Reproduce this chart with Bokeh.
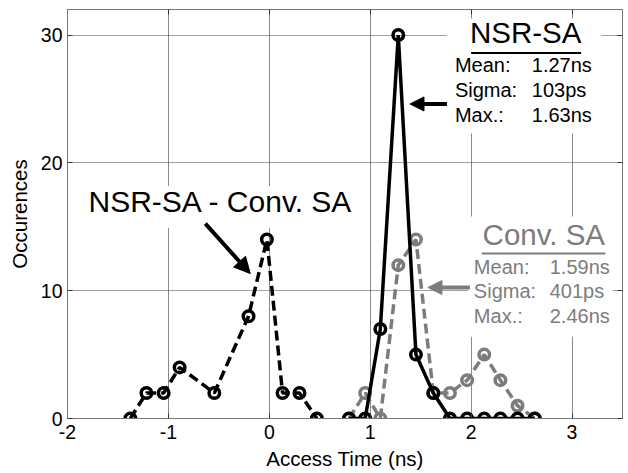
from bokeh.plotting import figure
from bokeh.models import Range1d, LinearAxis, Label, Arrow, NormalHead, BoxAnnotation, FixedTicker
from bokeh.embed import file_html
from bokeh.resources import INLINE

# ---- data ----
diff_x = [-1.377, -1.218, -1.047, -0.889, -0.545, -0.206, -0.024, 0.131, 0.299, 0.471]
diff_y = [0, 2, 2, 4, 2, 8, 14, 2, 2, 0]

bins = [0.79, 0.95, 1.10, 1.278, 1.453, 1.625, 1.79, 1.96, 2.13, 2.29, 2.46, 2.63]
nsr_y = [0, 0, 7, 30, 5, 2, 0, 0, 0, 0, 0, 0]
conv_y = [0, 2, 0, 12, 14, 2, 2, 3, 5, 3, 1, 0]

x_ticks = [-2, -1, 0, 1, 2, 3]
x_tick_labels = ["-2", "-1", "0", "1", "2", "3"]
y_ticks = [0, 10, 20, 30]

stat_keys = ["Mean:", "Sigma:", "Max.:"]
nsr_stats = ["1.27ns", "103ps", "1.63ns"]
conv_stats = ["1.59ns", "401ps", "2.46ns"]

FONT = "Liberation Sans"
GRAY = "#7c7c7c"

p = figure(width=628, height=473, x_range=Range1d(-2, 3.5), y_range=Range1d(0, 32),
           output_backend="svg", toolbar_location=None,
           min_border_left=67, min_border_right=6, min_border_top=9, min_border_bottom=55)
p.background_fill_color = "white"
p.border_fill_color = "white"
p.outline_line_color = "#777777"
p.outline_line_width = 1

# axes
for ax in (p.xaxis[0], p.yaxis[0]):
    ax.axis_line_color = "#777777"
    ax.major_tick_in = 5
    ax.major_tick_out = 0
    ax.minor_tick_line_color = None
    ax.major_tick_line_color = "#333333"
    ax.major_label_text_font = FONT
    ax.major_label_text_font_size = "19.5px"
    ax.major_label_text_color = "black"
    ax.axis_label_text_font = FONT
    ax.axis_label_text_font_size = "20.5px"
    ax.axis_label_text_font_style = "normal"
    ax.axis_label_text_color = "black"
p.xaxis.ticker = FixedTicker(ticks=x_ticks)
p.xaxis.major_label_overrides = {t: s for t, s in zip(x_ticks, x_tick_labels)}
p.yaxis.ticker = FixedTicker(ticks=y_ticks)
p.xaxis.axis_label = "Access Time (ns)"
p.yaxis.axis_label = "Occurences"
p.xaxis.major_label_standoff = 6
p.xaxis.axis_label_standoff = 5
p.yaxis.major_label_standoff = 5
p.yaxis.axis_label_standoff = 7

for side, tk in (("above", x_ticks), ("right", y_ticks)):
    ax = LinearAxis(ticker=FixedTicker(ticks=tk))
    ax.axis_line_color = "#777777"
    ax.major_tick_in = 5
    ax.major_tick_out = 0
    ax.minor_tick_line_color = None
    ax.major_tick_line_color = "#333333"
    ax.major_label_text_font_size = "1px"
    ax.major_label_text_color = None
    ax.major_label_standoff = 0
    p.add_layout(ax, side)

p.xgrid.ticker = FixedTicker(ticks=x_ticks)
p.ygrid.ticker = FixedTicker(ticks=y_ticks)
p.xgrid.grid_line_color = "#8a8a8a"
p.xgrid.grid_line_width = 1
p.ygrid.grid_line_color = "#444444"
p.ygrid.grid_line_dash = "1 1"
p.ygrid.grid_line_width = 1

# data series
p.line(diff_x, diff_y, line_color="black", line_width=3.5, line_dash="10 5")
p.scatter(diff_x, diff_y, marker="circle", size=10.5, line_width=3.5, line_color="black", fill_color=None)

p.line(bins, conv_y, line_color=GRAY, line_width=3.5, line_dash="10 5")
p.scatter(bins, conv_y, marker="circle", size=10.5, line_width=3.5, line_color=GRAY, fill_color=None)

p.line(bins, nsr_y, line_color="black", line_width=3.5)
p.scatter(bins, nsr_y, marker="circle", size=10.5, line_width=3.5, line_color="black", fill_color=None)

# white backgrounds behind annotation texts
for l, r, b, t in ((1.76, 3.29, 22.3, 31.3), (1.97, 3.4, 6.4, 15.8), (-1.9, 0.9, 14.9, 18.2)):
    p.add_layout(BoxAnnotation(left=l, right=r, bottom=b, top=t, fill_color="white",
                               fill_alpha=1, line_alpha=0))

# titles
p.add_layout(Label(x=2.54, y=28.88, text="NSR-SA", text_align="center", text_font=FONT,
                   text_font_size="29.5px", text_color="black"))
p.add_layout(Arrow(end=None, x_start=2.0, x_end=3.09, y_start=28.6, y_end=28.6,
                   line_color="black", line_width=2))
p.add_layout(Label(x=2.72, y=13.14, text="Conv. SA", text_align="center", text_font=FONT,
                   text_font_size="29.5px", text_color=GRAY))
p.add_layout(Arrow(end=None, x_start=2.105, x_end=3.33, y_start=12.9, y_end=12.9,
                   line_color=GRAY, line_width=2))
p.add_layout(Label(x=-1.792, y=15.71, text="NSR-SA - Conv. SA", text_font=FONT,
                   text_font_size="30px", text_color="black"))

nsr_rows = [26.80, 24.85, 22.89]
conv_rows = [11.03, 9.08, 7.13]
for k, v, yy in zip(stat_keys, nsr_stats, nsr_rows):
    p.add_layout(Label(x=1.839, y=yy, text=k, text_font=FONT, text_font_size="20px", text_color="black"))
    p.add_layout(Label(x=2.601, y=yy, text=v, text_font=FONT, text_font_size="20px", text_color="black"))
for k, v, yy in zip(stat_keys, conv_stats, conv_rows):
    p.add_layout(Label(x=2.027, y=yy, text=k, text_font=FONT, text_font_size="20px", text_color=GRAY))
    p.add_layout(Label(x=2.779, y=yy, text=v, text_font=FONT, text_font_size="20px", text_color=GRAY))

# arrows
p.add_layout(Arrow(end=NormalHead(size=14, fill_color="black", line_color="black"),
                   x_start=1.76, y_start=24.61, x_end=1.394, y_end=24.61,
                   line_color="black", line_width=4))
p.add_layout(Arrow(end=NormalHead(size=14, fill_color=GRAY, line_color=GRAY),
                   x_start=1.988, y_start=10.25, x_end=1.572, y_end=10.25,
                   line_color=GRAY, line_width=4))
p.add_layout(Arrow(end=NormalHead(size=16, fill_color="black", line_color="black"),
                   x_start=-0.634, y_start=15.25, x_end=-0.189, y_end=11.34,
                   line_color="black", line_width=4))

open("out.html", "w").write(file_html(p, INLINE))
